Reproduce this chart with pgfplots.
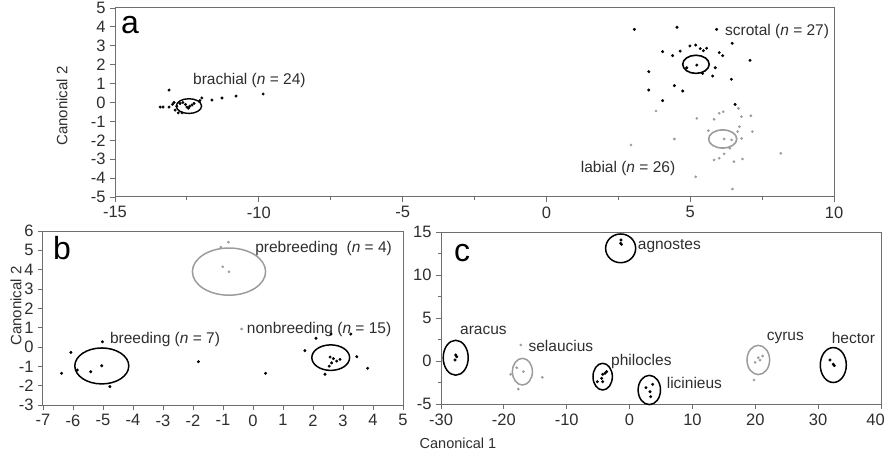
\documentclass[border=0pt]{standalone}
\usepackage{pgfplots}
\pgfplotsset{compat=1.18}
\usepackage{fontspec}
\setmainfont{Liberation Sans}
\definecolor{txt}{HTML}{2E2E2E}
\definecolor{axc}{HTML}{6E6E6E}
\definecolor{grp}{HTML}{9C9C9C}
\tikzset{ann/.style={font=\fontsize{15.5}{17}\selectfont, text=txt, inner sep=0pt}}
\pgfplotsset{
  myax/.style={scale only axis, clip=false,
    axis line style={axc, line width=1pt},
    every tick/.style={axc, line width=0.9pt},
    tick align=outside, major tick length=5pt, minor tick length=3pt,
    xtick pos=bottom, ytick pos=left,
    tick label style={font=\fontsize{16.5}{18}\selectfont, text=txt},
    /pgf/number format/assume math mode=true,
    xticklabel style={yshift=-1pt},
    yticklabel style={xshift=-1pt},
  },
  blk/.style={only marks, mark=*, mark size=1.3pt, black},
  gry/.style={only marks, mark=*, mark size=1.15pt, grp, mark options={draw=grp, fill=grp}},
}
\begin{document}
\begin{tikzpicture}[x=1pt,y=1pt]
\path[use as bounding box] (0,0) rectangle (888,463);
% ---------------- panel a
\begin{axis}[myax, at={(115pt,266pt)}, anchor=south west, width=719pt, height=189pt,
  xmin=-15, xmax=10, ymin=-5, ymax=5,
  xtick={-15,-10,-5,0,5,10}, minor xtick={-12.5,-7.5,-2.5,2.5,7.5},
  ytick={-5,-4,...,5}]
\addplot[blk] coordinates {
(-13.12,0.66) (-13.43,-0.24) (-13.33,-0.24) (-13.12,-0.24) (-12.95,0.0)
(-12.91,-0.4) (-12.8,-0.55) (-12.67,-0.55) (-12.74,-0.05) (-12.64,0.0)
(-12.5,-0.24) (-12.32,-0.13) (-12.25,-0.05) (-12.45,-0.3) (-12.05,0.1)
(-11.98,0.24) (-11.63,0.13) (-11.28,0.24) (-10.79,0.34) (-9.85,0.45)
(-12.85,-0.2) (-12.55,-0.1) (-13.0,-0.1) (-12.4,-0.2)};
\addplot[blk] coordinates {
(3.06,3.87) (4.54,3.98) (5.92,3.87) (6.46,3.13) (4.04,2.69) (4.39,2.48)
(4.65,2.72) (4.99,2.99) (5.19,3.04) (5.46,2.74) (5.57,2.87) (6.01,2.64)
(6.13,2.48) (7.08,2.23) (3.56,1.63) (5.23,1.98) (4.88,1.84) (5.43,1.54)
(5.87,1.84) (5.78,1.4) (6.43,1.23) (3.56,0.66) (4.45,0.89) (4.74,0.61)
(4.04,0.1) (6.56,-0.1) (5.35,2.85)};
\addplot[gry] coordinates {
(3.81,-0.45) (2.94,-2.25) (4.45,-1.93) (5.23,-0.84) (5.83,-0.89) (6.01,-0.57)
(6.15,-0.49) (6.68,-0.31) (6.78,-0.75) (7.11,-0.7) (5.63,-1.49) (6.71,-1.28)
(6.65,-1.54) (7.16,-1.54) (6.18,-1.93) (6.44,-1.98) (6.79,-1.9) (6.38,-2.42)
(6.18,-2.72) (6.01,-2.95) (5.83,-3.04) (6.52,-3.13) (6.82,-2.99) (8.15,-2.69)
(5.19,-3.93) (6.47,-4.58)};
\draw[black, line width=1.4pt] (axis cs:-12.43,-0.19) ellipse [x radius=0.44, y radius=0.39];
\draw[black, line width=1.6pt] (axis cs:5.2,2.02) ellipse [x radius=0.46, y radius=0.48];
\draw[grp, line width=1.6pt] (axis cs:6.13,-1.93) ellipse [x radius=0.49, y radius=0.48];
\node[ann, anchor=west] at (axis cs:-12.29,1.19) {brachial (\textit{n} = 24)};
\node[ann, anchor=west] at (axis cs:6.21,3.75) {scrotal (\textit{n} = 27)};
\node[ann, anchor=west] at (axis cs:1.19,-3.48) {labial (\textit{n} = 26)};
\end{axis}
% ---------------- panel b
\begin{axis}[myax, at={(43pt,58pt)}, anchor=south west, width=360pt, height=174pt,
  xmin=-7, xmax=5, ymin=-3, ymax=6,
  xtick={-7,-6,...,5}, ytick={-3,-2,...,6}]
\addplot[blk] coordinates {
(-5.02,0.27) (-6.07,-0.28) (-6.38,-1.36) (-5.86,-1.19) (-5.41,-1.28)
(-5.04,-0.97) (-4.77,-2.05)};
\addplot[blk] coordinates {
(-1.82,-0.76) (0.42,-1.36) (2.1,0.45) (2.6,0.67) (3.26,0.67) (1.73,-0.19)
(2.4,-1.41) (3.46,-0.5) (3.82,-1.1) (2.57,-0.52) (2.68,-0.6) (2.79,-0.73)
(2.9,-0.64) (2.62,-0.82) (2.54,-0.99)};
\addplot[gry] coordinates {
(-0.82,5.42) (-1.07,5.16) (-1.01,4.15) (-0.8,3.89) (-0.38,0.93)};
\draw[black, line width=1.5pt] (axis cs:-5.04,-0.98) ellipse [x radius=0.9, y radius=0.93];
\draw[black, line width=1.5pt] (axis cs:2.59,-0.55) ellipse [x radius=0.63, y radius=0.66];
\draw[grp, line width=1.5pt] (axis cs:-0.8,3.9) ellipse [x radius=1.22, y radius=1.22];
\node[ann, anchor=west] at (axis cs:0.07,5.1) {prebreeding\ \ (\textit{n} = 4)};
\node[ann, anchor=west] at (axis cs:-0.21,0.92) {nonbreeding (\textit{n} = 15)};
\node[ann, anchor=west] at (axis cs:-4.77,0.41) {breeding (\textit{n} = 7)};
\end{axis}
% ---------------- panel c
\begin{axis}[myax, at={(441pt,59pt)}, anchor=south west, width=440pt, height=172pt,
  xmin=-30, xmax=40, ymin=-5, ymax=15,
  xtick={-30,-20,...,40}, xticklabels={-30,-20,-10,0,10,20,30,\hspace*{-11pt}40},
  ytick={-5,0,5,10,15}, minor ytick={-2.5,2.5,7.5,12.5}]
\addplot[blk] coordinates {(-1.37,14.07) (-1.42,13.69) (-1.3,13.57)};
\addplot[blk] coordinates {(-27.66,0.7) (-27.5,0.5) (-27.77,0.12)};
\addplot[gry] coordinates {(-17.32,1.86) (-17.96,-0.78) (-16.9,-1.24) (-18.91,-1.55) (-17.7,-3.26) (-13.88,-1.9)};
\addplot[blk] coordinates {(-4.28,-1.55) (-3.91,-1.43) (-4.44,-2.01) (-5.13,-2.41) (-4.28,-2.41) (-3.65,-1.24)};
\addplot[blk] coordinates {(2.61,-3.1) (3.67,-2.71) (3.25,-3.57) (3.36,-4.15)};
\addplot[gry] coordinates {(20.48,0.38) (21.17,0.58) (19.97,-0.16) (20.75,0.1) (19.79,-2.21)};
\addplot[blk] coordinates {(31.88,0.12) (32.41,-0.38) (32.57,-0.54)};
\draw[black, line width=1.5pt] (axis cs:-1.42,13.1) ellipse [x radius=2.39, y radius=1.67];
\draw[black, line width=1.5pt] (axis cs:-27.66,0.38) ellipse [x radius=1.99, y radius=2.03];
\draw[grp, line width=1.5pt] (axis cs:-17.05,-1.24) ellipse [x radius=1.59, y radius=1.55];
\draw[black, line width=1.5pt] (axis cs:-4.28,-1.82) ellipse [x radius=1.54, y radius=1.55];
\draw[black, line width=1.5pt] (axis cs:3.14,-3.37) ellipse [x radius=1.78, y radius=1.7];
\draw[grp, line width=1.5pt] (axis cs:20.48,0.12) ellipse [x radius=1.8, y radius=1.7];
\draw[black, line width=1.5pt] (axis cs:32.41,-0.47) ellipse [x radius=2.07, y radius=2.03];
\node[ann, anchor=west] at (axis cs:1.29,13.4) {agnostes};
\node[ann, anchor=west] at (axis cs:-26.98,3.6) {aracus};
\node[ann, anchor=west] at (axis cs:-16.1,1.78) {selaucius};
\node[ann, anchor=west] at (axis cs:-2.95,0.0) {philocles};
\node[ann, anchor=west] at (axis cs:5.9,-2.6) {licinieus};
\node[ann, anchor=west] at (axis cs:21.8,2.64) {cyrus};
\node[ann, anchor=west] at (axis cs:32.15,2.64) {hector};
\end{axis}
% ---------------- labels
\node[font=\fontsize{32}{34}\selectfont, text=black, inner sep=0pt] at (130,438) {a};
\node[font=\fontsize{32}{34}\selectfont, text=black, inner sep=0pt] at (62,215) {b};
\node[font=\fontsize{32}{34}\selectfont, text=black, inner sep=0pt] at (462,210) {c};
\node[rotate=90, font=\fontsize{15}{17}\selectfont, text=txt, inner sep=0pt] at (62,357) {Canonical 2};
\node[rotate=90, font=\fontsize{15}{17}\selectfont, text=txt, inner sep=0pt] at (16,157) {Canonical 2};
\node[font=\fontsize{14.5}{16}\selectfont, text=txt, inner sep=0pt] at (458,20) {Canonical 1};
\end{tikzpicture}
\end{document}
